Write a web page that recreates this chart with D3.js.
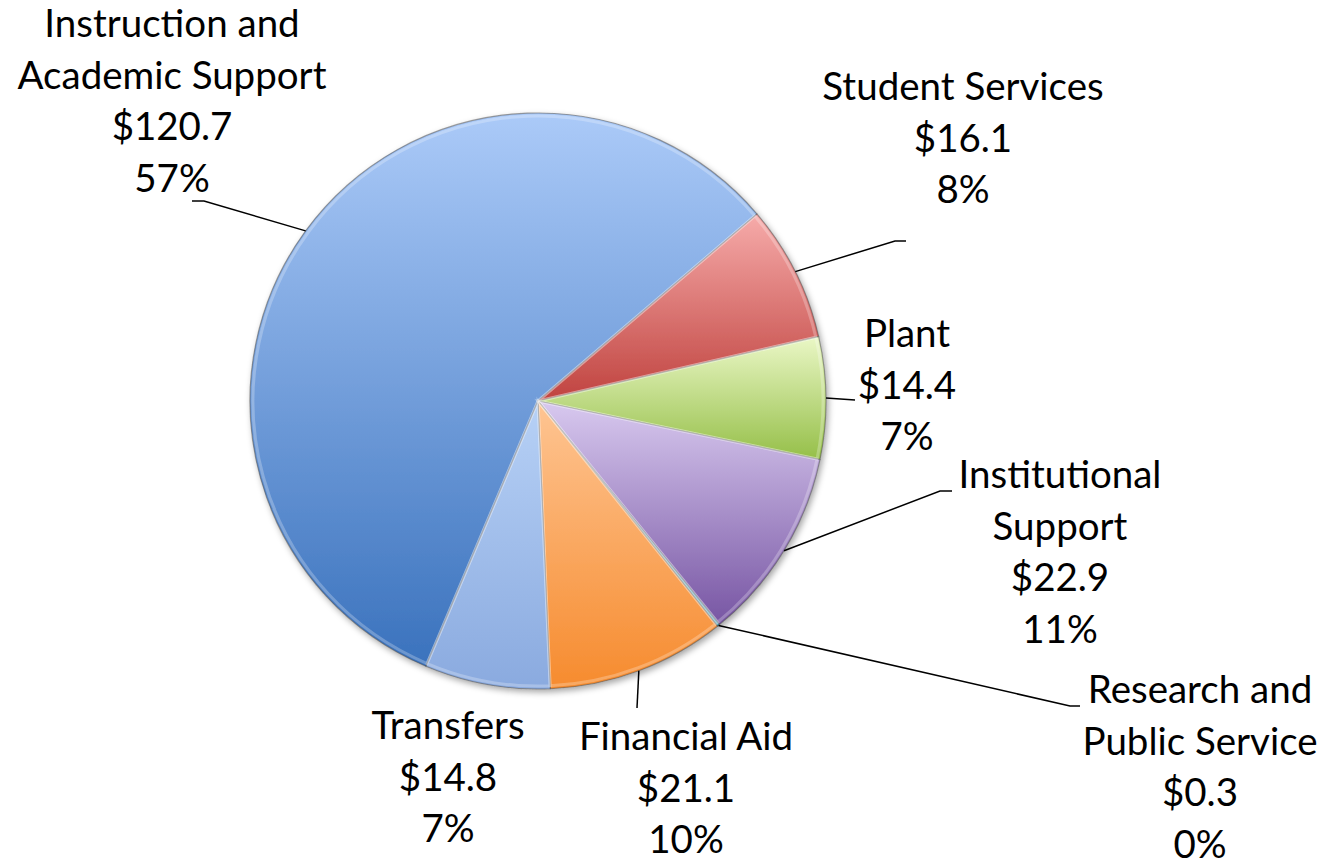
<!DOCTYPE html>
<html>
<head>
<meta charset="utf-8">
<script src="https://cdn.jsdelivr.net/npm/d3@7"></script>
<style>
  body { margin: 0; background: #fff; }
  text { font-family: Lato, "Open Sans", sans-serif; fill: #000; }
</style>
</head>
<body>
<div id="my_dataviz"></div>
<script>
// data
var categories = ["Instruction and Academic Support", "Student Services", "Plant",
  "Institutional Support", "Research and Public Service", "Financial Aid", "Transfers"];
var labelLines = [["Instruction and", "Academic Support"], ["Student Services"], ["Plant"],
  ["Institutional", "Support"], ["Research and", "Public Service"], ["Financial Aid"], ["Transfers"]];
var amounts = [120.7, 16.1, 14.4, 22.9, 0.3, 21.1, 14.8];

// slice colours (top / bottom of the gradient)
var topColors = ["#abcaf8", "#f6abaa", "#eaf7c6", "#d8c9ef", "#9fdcec", "#fec593", "#b7d1f6"];
var bottomColors = ["#3a72bd", "#c0433f", "#95bf48", "#7755a3", "#3c9ab5", "#f68b2e", "#8aaadf"];

// label layout
var labelX = [172, 963, 907, 1060, 1200, 686, 448];
var labelY = [37, 100, 347, 488, 703, 750, 739];
var leaderTo = [[[204, 201], [192, 201]], [[895, 241], [906, 241]], [[855, 400]],
  [[940, 491], [952, 491]], [[1070, 706], [1080, 706]], [[637, 708]], null];

var width = 1324, height = 865,
    cx = 538, cy = 401, radius = 288,
    lineGap = 51.7;

var svg = d3.select("#my_dataviz")
  .append("svg")
    .attr("width", width)
    .attr("height", height);

svg.append("rect").attr("width", width).attr("height", height).attr("fill", "#fff");

var defs = svg.append("defs");

var shadow = defs.append("filter")
    .attr("id", "shadow")
    .attr("x", "-10%").attr("y", "-10%")
    .attr("width", "120%").attr("height", "120%");
shadow.append("feDropShadow")
    .attr("dx", 2).attr("dy", 3)
    .attr("stdDeviation", 3)
    .attr("flood-color", "#000")
    .attr("flood-opacity", 0.35);

categories.forEach(function(c, i) {
  var g = defs.append("linearGradient")
      .attr("id", "grad" + i)
      .attr("x1", 0).attr("y1", 0)
      .attr("x2", 0).attr("y2", 1);
  g.append("stop").attr("offset", "0%").attr("stop-color", topColors[i]);
  g.append("stop").attr("offset", "100%").attr("stop-color", bottomColors[i]);
});

var total = d3.sum(amounts);
var start = -157.1 * Math.PI / 180;

var pie = d3.pie()
  .sort(null)
  .startAngle(start)
  .endAngle(start + 2 * Math.PI)
  .value(function(d) { return d; });

var arcs = pie(amounts);

var arc = d3.arc().innerRadius(0).outerRadius(radius);

var pieG = svg.append("g")
    .attr("transform", "translate(" + cx + "," + cy + ")")
    .attr("filter", "url(#shadow)");

pieG.selectAll("path")
  .data(arcs)
  .enter()
  .append("path")
    .attr("d", arc)
    .attr("fill", function(d, i) { return "url(#grad" + i + ")"; })
    .attr("stroke", "rgba(70,70,70,0.5)")
    .attr("stroke-width", 1.2)
    .attr("stroke-linejoin", "round");

// soft bevel highlight along the slice edges
pieG.selectAll("path.bevel")
  .data(arcs)
  .enter()
  .append("path")
    .attr("class", "bevel")
    .attr("d", d3.arc().innerRadius(0).outerRadius(radius - 3))
    .attr("fill", "none")
    .attr("stroke", "rgba(255,255,255,0.25)")
    .attr("stroke-width", 3);

// leader lines
arcs.forEach(function(d, i) {
  if (!leaderTo[i]) return;
  var a = (d.startAngle + d.endAngle) / 2;
  var p0 = [cx + radius * Math.sin(a), cy - radius * Math.cos(a)];
  var pts = [p0].concat(leaderTo[i]);
  svg.append("path")
    .attr("d", d3.line()(pts))
    .attr("fill", "none")
    .attr("stroke", "#000")
    .attr("stroke-width", 1.5);
});

// labels
var money = d3.format(".1f");
categories.forEach(function(c, i) {
  var lines = labelLines[i].concat(["$" + money(amounts[i]), Math.round(amounts[i] / total * 100) + "%"]);
  var t = svg.append("text")
      .attr("x", labelX[i])
      .attr("y", labelY[i])
      .attr("text-anchor", "middle")
      .style("font-size", "38.5px");
  lines.forEach(function(l, j) {
    t.append("tspan")
      .attr("x", labelX[i])
      .attr("y", labelY[i] + j * lineGap)
      .text(l);
  });
});
</script>
</body>
</html>
